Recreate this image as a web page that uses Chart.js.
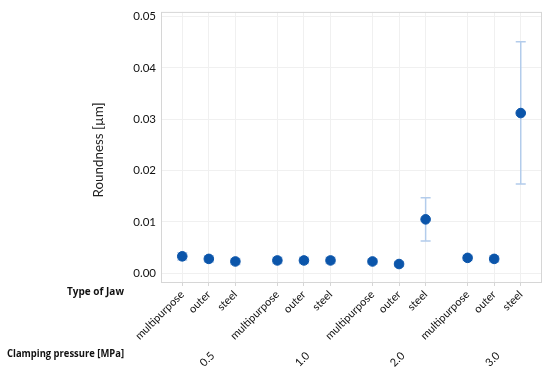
<!DOCTYPE html>
<html>
<head>
<meta charset="utf-8">
<script src="https://cdn.jsdelivr.net/npm/chart.js@4/dist/chart.umd.min.js"></script>
<style>
html,body{margin:0;padding:0;background:#fff;}
#wrap{width:550px;height:369px;position:relative;}
</style>
</head>
<body>
<div id="wrap"><canvas id="c" width="550" height="369"></canvas></div>
<script>
// ---- data ----
const pressures = ['0.5', '1.0', '2.0', '3.0'];
const jaws = ['multipurpose', 'outer', 'steel'];
const roundness = [0.0033, 0.0028, 0.0023, 0.0025, 0.0025, 0.0025, 0.0023, 0.0018, 0.0105, 0.0030, 0.0028, 0.0312];
const errLow  = [0.0026, 0.0022, 0.0017, 0.0019, 0.0019, 0.0019, 0.0018, 0.0013, 0.0063, 0.0025, 0.0022, 0.0174];
const errHigh = [0.0040, 0.0034, 0.0029, 0.0031, 0.0031, 0.0031, 0.0028, 0.0023, 0.0147, 0.0035, 0.0034, 0.0451];
const yTicks = [0, 0.01, 0.02, 0.03, 0.04, 0.05];

// x slot of each point: group index * group spacing + jaw index
const GROUP_STEP = 3.58;
const xPos = [];
const xLabels = [];
pressures.forEach((p, g) => jaws.forEach((j, i) => { xPos.push(g * GROUP_STEP + i); xLabels.push(j); }));
const points = roundness.map((v, k) => ({x: xPos[k], y: v}));

const FONT = "Lato, 'Open Sans', sans-serif";
const BOLD_FONT = "'Open Sans', 'Noto Sans', sans-serif";

const extras = {
  id: 'extras',
  beforeDatasetsDraw(chart) {
    const {ctx, scales: {x, y}} = chart;
    ctx.save();
    ctx.strokeStyle = '#b3cceb';
    ctx.lineWidth = 1.5;
    roundness.forEach((v, k) => {
      const px = x.getPixelForValue(xPos[k]);
      const lo = y.getPixelForValue(errLow[k]);
      const hi = y.getPixelForValue(errHigh[k]);
      ctx.beginPath();
      ctx.moveTo(px, lo); ctx.lineTo(px, hi);
      ctx.moveTo(px - 5, lo); ctx.lineTo(px + 5, lo);
      ctx.moveTo(px - 5, hi); ctx.lineTo(px + 5, hi);
      ctx.stroke();
    });
    ctx.restore();
  },
  afterDraw(chart) {
    const {ctx, chartArea: a, scales: {x}} = chart;
    ctx.save();
    // plot frame
    ctx.strokeStyle = '#d6d6d6';
    ctx.lineWidth = 1;
    ctx.strokeRect(a.left + 0.5, a.top + 0.5, a.right - a.left - 1, a.bottom - a.top);
    // y axis title
    ctx.save();
    ctx.translate(98, 150);
    ctx.rotate(-Math.PI / 2);
    ctx.fillStyle = '#222';
    ctx.font = "14px " + FONT;
    ctx.textAlign = 'center';
    ctx.textBaseline = 'middle';
    ctx.fillText('Roundness [µm]', 0, 0, 95);
    ctx.restore();
    // row titles
    ctx.fillStyle = '#111';
    ctx.font = "bold 11px " + BOLD_FONT;
    ctx.textAlign = 'right';
    ctx.textBaseline = 'middle';
    ctx.fillText('Type of Jaw', 124, 292, 57);
    ctx.fillText('Clamping pressure [MPa]', 124, 354, 117);
    // pressure labels (rotated)
    ctx.font = "11px " + FONT;
    pressures.forEach((p, g) => {
      const cx = x.getPixelForValue(g * GROUP_STEP + 1);
      ctx.save();
      ctx.translate(cx, 350);
      ctx.rotate(-Math.PI / 4);
      ctx.textAlign = 'right';
      ctx.textBaseline = 'top';
      ctx.fillText(p, 0, 0);
      ctx.restore();
    });
    ctx.restore();
  }
};

new Chart(document.getElementById('c'), {
  type: 'scatter',
  data: {
    datasets: [{
      data: points,
      backgroundColor: '#0b55aa',
      borderColor: '#0b55aa',
      pointRadius: 4.8,
      pointHoverRadius: 4.8
    }]
  },
  options: {
    responsive: false,
    animation: false,
    events: [],
    layout: {padding: {left: 89, right: 8, top: 7, bottom: 0}},
    plugins: {legend: {display: false}, tooltip: {enabled: false}},
    scales: {
      x: {
        type: 'linear',
        min: -0.8,
        max: 3 * GROUP_STEP + 2 + 0.8,
        afterBuildTicks: s => { s.ticks = xPos.map(v => ({value: v})); },
        afterFit: s => { s.height = 87; },
        ticks: {
          autoSkip: false,
          minRotation: 45,
          maxRotation: 45,
          padding: 2,
          color: '#111',
          font: {size: 11, family: FONT},
          callback: (v, i) => xLabels[i]
        },
        grid: {color: '#f0f0f0', tickColor: '#d6d6d6', tickLength: 4, drawTicks: true},
        border: {display: false}
      },
      y: {
        min: -0.0017,
        max: 0.0509,
        afterBuildTicks: s => { s.ticks = yTicks.map(v => ({value: v})); },
        afterFit: s => { s.width = 72; },
        ticks: {
          color: '#111',
          padding: 5,
          font: {size: 11.5, family: FONT},
          callback: v => v.toFixed(2)
        },
        grid: {color: '#f0f0f0', drawTicks: false},
        border: {display: false}
      }
    }
  },
  plugins: [extras]
});
</script>
</body>
</html>
